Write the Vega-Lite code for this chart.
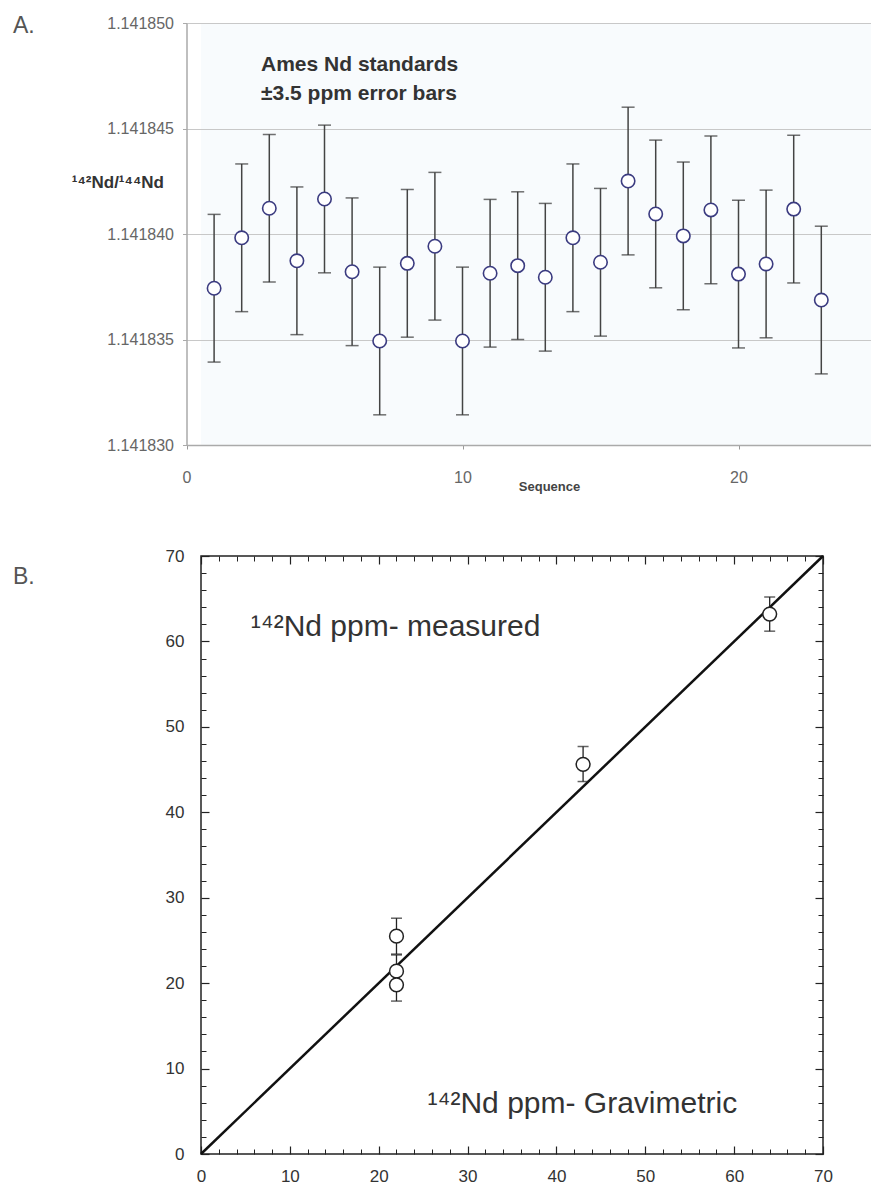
{
  "$schema": "https://vega.github.io/schema/vega-lite/v6.json",
  "background": "white",
  "padding": {"left": 12, "top": 15, "right": 0, "bottom": 0},
  "spacing": 53,
  "config": {"font": "Liberation Sans", "view": {"stroke": null}},
  "vconcat": [
    {
      "width": 671,
      "height": 422,
      "title": {"text": "A.", "anchor": "start", "frame": "group", "dx": -188, "dy": 23, "offset": 0, "fontSize": 23, "fontWeight": "normal", "color": "#555"},
      "view": {"fill": "#f8fbfd", "stroke": null},
      "data": {"values": [
        {"seq": 1, "ratio": 1.14183743, "lo": 1.14183393, "hi": 1.14184093},
        {"seq": 2, "ratio": 1.14183982, "lo": 1.14183632, "hi": 1.14184332},
        {"seq": 3, "ratio": 1.14184122, "lo": 1.14183772, "hi": 1.14184472},
        {"seq": 4, "ratio": 1.14183873, "lo": 1.14183523, "hi": 1.14184223},
        {"seq": 5, "ratio": 1.14184166, "lo": 1.14183816, "hi": 1.14184516},
        {"seq": 6, "ratio": 1.14183821, "lo": 1.14183471, "hi": 1.14184171},
        {"seq": 7, "ratio": 1.14183493, "lo": 1.14183143, "hi": 1.14183843},
        {"seq": 8, "ratio": 1.14183861, "lo": 1.14183511, "hi": 1.14184211},
        {"seq": 9, "ratio": 1.14183942, "lo": 1.14183592, "hi": 1.14184292},
        {"seq": 10, "ratio": 1.14183493, "lo": 1.14183143, "hi": 1.14183843},
        {"seq": 11, "ratio": 1.14183814, "lo": 1.14183464, "hi": 1.14184164},
        {"seq": 12, "ratio": 1.1418385, "lo": 1.141835, "hi": 1.141842},
        {"seq": 13, "ratio": 1.14183795, "lo": 1.14183445, "hi": 1.14184145},
        {"seq": 14, "ratio": 1.14183982, "lo": 1.14183632, "hi": 1.14184332},
        {"seq": 15, "ratio": 1.14183866, "lo": 1.14183516, "hi": 1.14184216},
        {"seq": 16, "ratio": 1.14184251, "lo": 1.14183901, "hi": 1.14184601},
        {"seq": 17, "ratio": 1.14184095, "lo": 1.14183745, "hi": 1.14184445},
        {"seq": 18, "ratio": 1.14183991, "lo": 1.14183641, "hi": 1.14184341},
        {"seq": 19, "ratio": 1.14184114, "lo": 1.14183764, "hi": 1.14184464},
        {"seq": 20, "ratio": 1.1418381, "lo": 1.1418346, "hi": 1.1418416},
        {"seq": 21, "ratio": 1.14183858, "lo": 1.14183508, "hi": 1.14184208},
        {"seq": 22, "ratio": 1.14184118, "lo": 1.14183768, "hi": 1.14184468},
        {"seq": 23, "ratio": 1.14183687, "lo": 1.14183337, "hi": 1.14184037}
      ]},
      "encoding": {
        "x": {"type": "quantitative", "scale": {"domain": [0, 25], "range": [-14.5, 675.5], "nice": false, "zero": false},
          "axis": {"title": "Sequence", "values": [0, 10, 20], "grid": false, "tickSize": 4, "tickColor": "#999", "domainColor": "#aaa", "domainWidth": 1.5, "labelFontSize": 16, "labelColor": "#666", "labelPadding": 20, "labelFlush": false, "titleFontSize": 13, "titleFontWeight": "bold", "titleColor": "#444", "titleX": 348, "titleY": 41, "titleBaseline": "middle"}},
        "y": {"type": "quantitative", "scale": {"domain": [1.14183, 1.14185], "nice": false, "zero": false},
          "axis": {"title": "¹⁴²Nd/¹⁴⁴Nd", "offset": 14.5, "values": [1.14183, 1.141835, 1.14184, 1.141845, 1.14185], "format": ".6f", "grid": true, "gridColor": "#c8c8c8", "gridWidth": 1, "tickSize": 4, "tickColor": "#aaa", "domainColor": "#aaa", "domainWidth": 1.5, "labelFontSize": 16, "labelColor": "#666", "labelPadding": 9, "titleAngle": 0, "titleAlign": "right", "titleBaseline": "middle", "titleX": -23, "titleY": 159, "titleFontSize": 17, "titleFontWeight": "bold", "titleColor": "#333"}}
      },
      "layer": [
        {
          "mark": {"type": "rule", "color": "#444", "strokeWidth": 1.5},
          "encoding": {
            "x": {"field": "seq"},
            "y": {"field": "lo"},
            "y2": {"field": "hi"}
          }
        },
        {
          "mark": {"type": "tick", "orient": "horizontal", "size": 13, "thickness": 1.5, "color": "#333"},
          "encoding": {
            "x": {"field": "seq"},
            "y": {"field": "lo"}
          }
        },
        {
          "mark": {"type": "tick", "orient": "horizontal", "size": 13, "thickness": 1.5, "color": "#333"},
          "encoding": {
            "x": {"field": "seq"},
            "y": {"field": "hi"}
          }
        },
        {
          "mark": {"type": "point", "shape": "circle", "filled": true, "fill": "white", "stroke": "#3b3b80", "strokeWidth": 1.6, "size": 180, "opacity": 1},
          "encoding": {
            "x": {"field": "seq"},
            "y": {"field": "ratio"}
          }
        },
        {
          "data": {"values": [
            {"ax": 2.7, "ay": 1.14184801, "label": "Ames Nd standards"},
            {"ax": 2.7, "ay": 1.14184664, "label": "±3.5 ppm error bars"}
          ]},
          "mark": {"type": "text", "align": "left", "baseline": "middle", "fontSize": 21, "fontWeight": "bold", "color": "#333"},
          "encoding": {
            "x": {"field": "ax"},
            "y": {"field": "ay"},
            "text": {"field": "label"}
          }
        }
      ]
    },
    {
      "width": 622,
      "height": 598,
      "title": {"text": "B.", "anchor": "start", "frame": "group", "dx": -188, "dy": 42, "offset": 0, "fontSize": 23, "fontWeight": "normal", "color": "#555"},
      "view": {"stroke": "#222", "strokeWidth": 1.5, "fill": "white"},
      "resolve": {"axis": {"x": "independent", "y": "independent"}},
      "layer": [
        {
          "data": {"values": [{"gx": 0, "gy": 0}, {"gx": 70, "gy": 70}]},
          "mark": {"type": "line", "color": "#111", "strokeWidth": 2.5},
          "encoding": {
            "x": {"field": "gx", "type": "quantitative", "scale": {"domain": [0, 70], "nice": false},
              "axis": {"orient": "bottom", "title": null, "values": [0, 10, 20, 30, 40, 50, 60, 70], "grid": false, "domain": false, "tickSize": -8, "tickColor": "#222", "tickWidth": 1.2, "labelFontSize": 17, "labelColor": "#333", "labelPadding": 22, "labelFlush": false}},
            "y": {"field": "gy", "type": "quantitative", "scale": {"domain": [0, 70], "nice": false},
              "axis": {"orient": "left", "title": null, "values": [0, 10, 20, 30, 40, 50, 60, 70], "grid": false, "domain": false, "tickSize": -8, "tickColor": "#222", "tickWidth": 1.2, "labelFontSize": 17, "labelColor": "#333", "labelPadding": 25, "labelFlush": false}}
          }
        },
        {
          "data": {"name": "pts", "values": [
            {"grav": 22, "meas": 25.5, "lo": 23.4, "hi": 27.6},
            {"grav": 22, "meas": 21.4, "lo": 19.5, "hi": 23.3},
            {"grav": 22, "meas": 19.8, "lo": 17.9, "hi": 21.7},
            {"grav": 43, "meas": 45.6, "lo": 43.6, "hi": 47.7},
            {"grav": 64, "meas": 63.2, "lo": 61.2, "hi": 65.2}
          ]},
          "mark": {"type": "rule", "color": "#222", "strokeWidth": 1.3},
          "encoding": {
            "x": {"field": "grav", "type": "quantitative",
              "axis": {"orient": "top", "title": null, "values": [0, 10, 20, 30, 40, 50, 60, 70], "labels": false, "grid": false, "domain": false, "tickSize": -8, "tickColor": "#222", "tickWidth": 1.2}},
            "y": {"field": "lo", "type": "quantitative",
              "axis": {"orient": "right", "title": null, "values": [0, 10, 20, 30, 40, 50, 60, 70], "labels": false, "grid": false, "domain": false, "tickSize": -8, "tickColor": "#222", "tickWidth": 1.2}},
            "y2": {"field": "hi"}
          }
        },
        {
          "data": {"name": "pts"},
          "mark": {"type": "tick", "orient": "horizontal", "size": 11, "thickness": 1.5, "color": "#222"},
          "encoding": {
            "x": {"field": "grav", "type": "quantitative",
              "axis": {"orient": "bottom", "title": null, "values": [2, 4, 6, 8, 12, 14, 16, 18, 22, 24, 26, 28, 32, 34, 36, 38, 42, 44, 46, 48, 52, 54, 56, 58, 62, 64, 66, 68], "labels": false, "grid": false, "domain": false, "tickSize": -5, "tickColor": "#222", "tickWidth": 1}},
            "y": {"field": "lo", "type": "quantitative",
              "axis": {"orient": "left", "title": null, "values": [2, 4, 6, 8, 12, 14, 16, 18, 22, 24, 26, 28, 32, 34, 36, 38, 42, 44, 46, 48, 52, 54, 56, 58, 62, 64, 66, 68], "labels": false, "grid": false, "domain": false, "tickSize": -5, "tickColor": "#222", "tickWidth": 1}}
          }
        },
        {
          "data": {"name": "pts"},
          "mark": {"type": "tick", "orient": "horizontal", "size": 11, "thickness": 1.5, "color": "#222"},
          "encoding": {
            "x": {"field": "grav", "type": "quantitative",
              "axis": {"orient": "top", "title": null, "values": [2, 4, 6, 8, 12, 14, 16, 18, 22, 24, 26, 28, 32, 34, 36, 38, 42, 44, 46, 48, 52, 54, 56, 58, 62, 64, 66, 68], "labels": false, "grid": false, "domain": false, "tickSize": -5, "tickColor": "#222", "tickWidth": 1}},
            "y": {"field": "hi", "type": "quantitative",
              "axis": {"orient": "right", "title": null, "values": [2, 4, 6, 8, 12, 14, 16, 18, 22, 24, 26, 28, 32, 34, 36, 38, 42, 44, 46, 48, 52, 54, 56, 58, 62, 64, 66, 68], "labels": false, "grid": false, "domain": false, "tickSize": -5, "tickColor": "#222", "tickWidth": 1}}
          }
        },
        {
          "data": {"name": "pts"},
          "mark": {"type": "point", "shape": "circle", "filled": true, "fill": "white", "stroke": "#222", "strokeWidth": 1.5, "size": 190, "opacity": 1},
          "encoding": {
            "x": {"field": "grav", "type": "quantitative", "axis": null},
            "y": {"field": "meas", "type": "quantitative", "axis": null}
          }
        },
        {
          "data": {"values": [
            {"tx": 5.6, "ty": 60.6, "label": "¹⁴²Nd ppm- measured"},
            {"tx": 25.5, "ty": 4.8, "label": "¹⁴²Nd ppm- Gravimetric"}
          ]},
          "mark": {"type": "text", "align": "left", "baseline": "alphabetic", "fontSize": 30, "color": "#333"},
          "encoding": {
            "x": {"field": "tx", "type": "quantitative", "axis": null},
            "y": {"field": "ty", "type": "quantitative", "axis": null},
            "text": {"field": "label"}
          }
        }
      ]
    }
  ]
}
